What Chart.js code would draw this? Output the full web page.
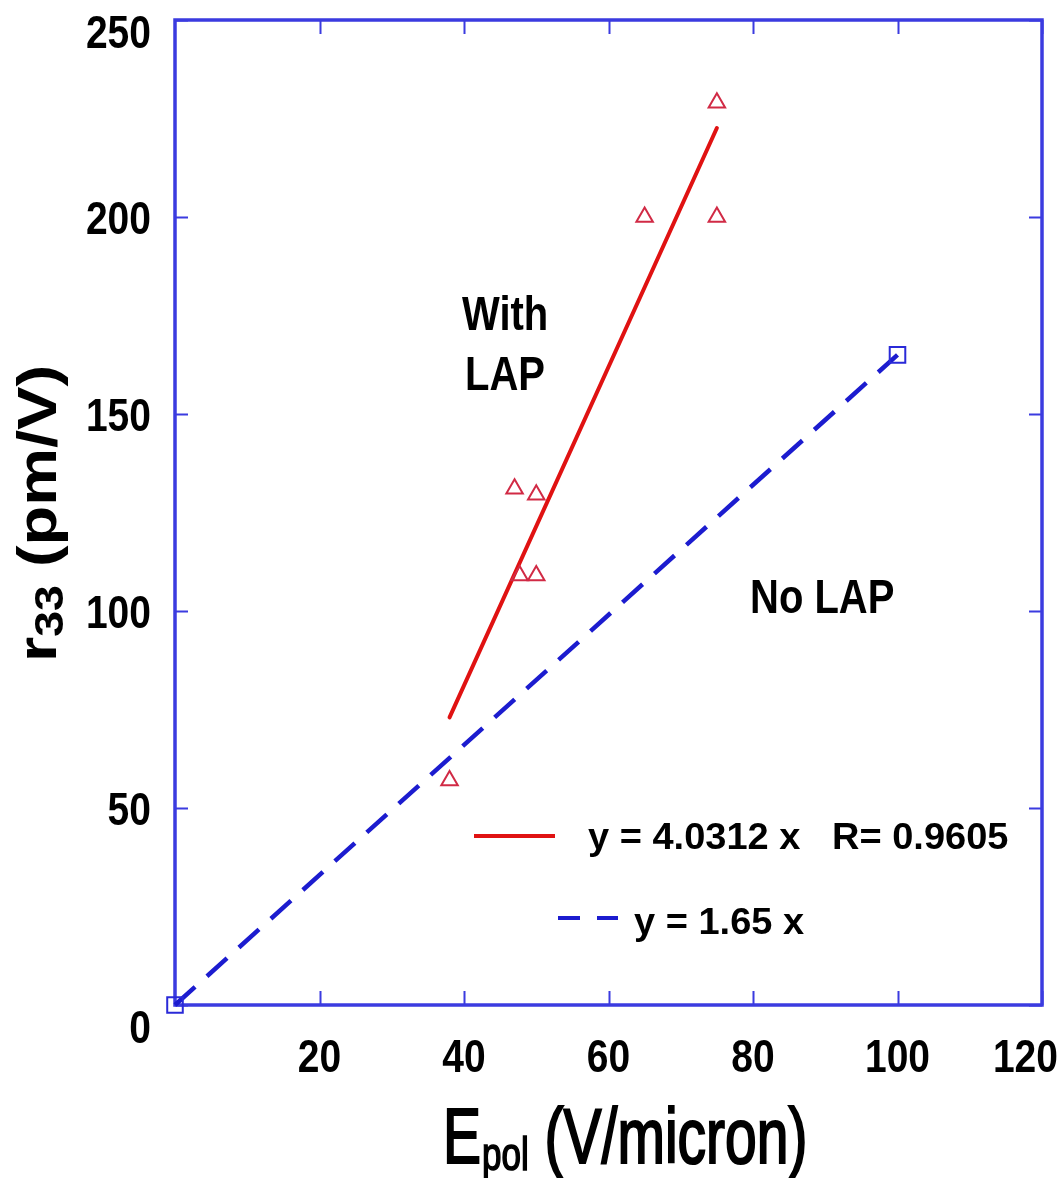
<!DOCTYPE html>
<html>
<head>
<meta charset="utf-8">
<script src="https://cdn.jsdelivr.net/npm/chart.js@4.4.1/dist/chart.umd.min.js"></script>
<style>
  html, body { margin: 0; padding: 0; background: #fff; }
  #wrap { width: 1063px; height: 1178px; }
</style>
</head>
<body>
<div id="wrap"><canvas id="myChart" width="1063" height="1178"></canvas></div>
<script>
// data
const withLapX = [38, 47, 47.7, 50, 50, 65, 75, 75];
const withLapY = [57, 131, 109, 109, 129.5, 200, 200, 229];
const withLapFitX = [38, 75];
const withLapFitY = [73, 222.6];
const noLapX = [0, 100];
const noLapY = [0, 165];
const xTicks = [20, 40, 60, 80, 100, 120];
const yTicks = [0, 50, 100, 150, 200, 250];
const fitLabel = 'y = 4.0312 x   R= 0.9605';
const noLapLabel = 'y = 1.65 x';

const FONT = '"Liberation Sans", Arial, sans-serif';
const frameColor = '#3b3be0';
const red = '#e01212';
const redMark = '#d12a45';
const blue = '#1c1ccf';

const toPts = (xs, ys) => xs.map((x, i) => ({ x: x, y: ys[i] }));

// draw text with a vertical stretch (the source image is squashed/stretched)
function txt(ctx, s, x, y, font, align, sy, thick) {
  ctx.save();
  ctx.font = font;
  ctx.textAlign = align || 'left';
  ctx.textBaseline = 'alphabetic';
  ctx.translate(x, y);
  ctx.scale(1, sy || 1);
  ctx.fillText(s, 0, 0);
  if (thick) {
    ctx.lineWidth = thick;
    ctx.strokeStyle = ctx.fillStyle;
    ctx.strokeText(s, 0, 0);
  }
  ctx.restore();
}

const decorations = {
  id: 'decorations',
  beforeDatasetsDraw(chart) {
    const ctx = chart.ctx;
    const a = chart.chartArea;
    const xs = chart.scales.x, ys = chart.scales.y;
    ctx.save();
    ctx.strokeStyle = frameColor;
    // inward ticks on all four sides
    ctx.beginPath();
    xTicks.forEach(v => {
      const px = Math.round(xs.getPixelForValue(v)) + 0.5;
      ctx.moveTo(px, a.bottom); ctx.lineTo(px, a.bottom - 14);
      ctx.moveTo(px, a.top); ctx.lineTo(px, a.top + 14);
    });
    yTicks.forEach(v => {
      const py = Math.round(ys.getPixelForValue(v)) + 0.5;
      ctx.moveTo(a.left, py); ctx.lineTo(a.left + 13, py);
      ctx.moveTo(a.right, py); ctx.lineTo(a.right - 13, py);
    });
    ctx.lineWidth = 2;
    ctx.stroke();
    ctx.lineWidth = 3.5;
    ctx.strokeRect(a.left, a.top, a.right - a.left, a.bottom - a.top);
    ctx.restore();
  },
  afterDraw(chart) {
    const ctx = chart.ctx;
    const xs = chart.scales.x, ys = chart.scales.y;
    ctx.save();
    ctx.fillStyle = '#000';

    // tick labels
    const tickFont = 'bold 39px ' + FONT;
    const capH = 0.716 * 39 * 1.2;
    yTicks.forEach((v, i) => {
      let base = ys.getPixelForValue(v) + capH / 2;
      if (i === 0) base += 21;
      if (i === yTicks.length - 1) base += 11;
      txt(ctx, String(v), 151, base, tickFont, 'right', 1.2);
    });
    ctx.font = tickFont;
    xTicks.forEach(v => {
      const s = String(v);
      const w = ctx.measureText(s).width;
      let cx = xs.getPixelForValue(v);
      if (cx + w / 2 > 1058) cx = 1058 - w / 2;
      txt(ctx, s, cx, 1072, tickFont, 'center', 1.2);
    });

    // x axis title: E_pol (V/micron)
    let x = 443;
    const xf = '57px ' + FONT, xsub = '35px ' + FONT;
    txt(ctx, 'E', x, 1163, xf, 'left', 1.35, 1.6);
    ctx.font = xf; x += ctx.measureText('E').width + 1;
    txt(ctx, 'pol', x, 1170, xsub, 'left', 1.3, 1.2);
    ctx.font = xsub; x += ctx.measureText('pol').width;
    txt(ctx, ' (V/micron)', x, 1163, xf, 'left', 1.35, 1.6);

    // y axis title: r_33 (pm/V), rotated
    ctx.save();
    ctx.translate(56, 662);
    ctx.rotate(-Math.PI / 2);
    ctx.scale(1.16, 1);
    const yf = 'bold 56px ' + FONT, ysub = 'bold 40px ' + FONT;
    let t = 0;
    ctx.font = yf; ctx.textAlign = 'left'; ctx.textBaseline = 'alphabetic';
    ctx.fillText('r', t, 0); t += ctx.measureText('r').width;
    ctx.font = ysub;
    ctx.fillText('33', t, 7); t += ctx.measureText('33').width;
    ctx.font = yf;
    ctx.fillText(' (pm/V)', t, 0);
    ctx.restore();

    // annotations
    const annFont = 'bold 40px ' + FONT;
    txt(ctx, 'With', 462, 330, annFont, 'left', 1.22);
    txt(ctx, 'LAP', 465, 390, annFont, 'left', 1.22);
    txt(ctx, 'No LAP', 750, 613, annFont, 'left', 1.22);

    // legend inside the plot
    ctx.lineCap = 'butt';
    ctx.strokeStyle = chart.data.datasets[1].borderColor;
    ctx.lineWidth = 4;
    ctx.beginPath(); ctx.moveTo(474, 836); ctx.lineTo(555, 836); ctx.stroke();
    ctx.strokeStyle = chart.data.datasets[2].borderColor;
    ctx.setLineDash([22, 17]);
    ctx.beginPath(); ctx.moveTo(558, 918); ctx.lineTo(618, 918); ctx.stroke();
    ctx.setLineDash([]);
    const legFont = 'bold 38px ' + FONT;
    txt(ctx, fitLabel, 588, 849, legFont, 'left', 0.95);
    txt(ctx, noLapLabel, 634, 934, legFont, 'left', 0.95);
    ctx.restore();
  }
};

const ctx = document.getElementById('myChart').getContext('2d');
const myChart = new Chart(ctx, {
  type: 'scatter',
  data: {
    datasets: [
      {
        label: 'With LAP',
        data: toPts(withLapX, withLapY),
        pointStyle: 'triangle',
        pointRadius: 9.5,
        pointBorderWidth: 2,
        pointBorderColor: redMark,
        pointBackgroundColor: 'rgba(0,0,0,0)',
        showLine: false,
        clip: false
      },
      {
        label: fitLabel,
        data: toPts(withLapFitX, withLapFitY),
        showLine: true,
        borderColor: red,
        borderWidth: 4,
        borderCapStyle: 'round',
        pointRadius: 0,
        clip: false
      },
      {
        label: noLapLabel,
        data: toPts(noLapX, noLapY),
        showLine: true,
        borderColor: blue,
        borderWidth: 4.5,
        borderDash: [27, 16],
        pointStyle: 'rect',
        pointRadius: 11,
        pointBorderWidth: 2,
        pointBorderColor: '#2a2ad8',
        pointBackgroundColor: 'rgba(0,0,0,0)',
        clip: false
      }
    ]
  },
  options: {
    responsive: false,
    animation: false,
    devicePixelRatio: 1,
    layout: { padding: { left: 175, top: 20, right: 21, bottom: 173 } },
    plugins: {
      legend: { display: false },
      tooltip: { enabled: false }
    },
    scales: {
      x: {
        type: 'linear',
        min: 0,
        max: 120,
        grid: { display: false },
        border: { display: false },
        ticks: { display: false, stepSize: 20 },
        afterFit: s => { s.height = 0; s.paddingLeft = 0; s.paddingRight = 0; }
      },
      y: {
        type: 'linear',
        min: 0,
        max: 250,
        grid: { display: false },
        border: { display: false },
        ticks: { display: false, stepSize: 50 },
        afterFit: s => { s.width = 0; s.paddingTop = 0; s.paddingBottom = 0; }
      }
    }
  },
  plugins: [decorations]
});
</script>
</body>
</html>
